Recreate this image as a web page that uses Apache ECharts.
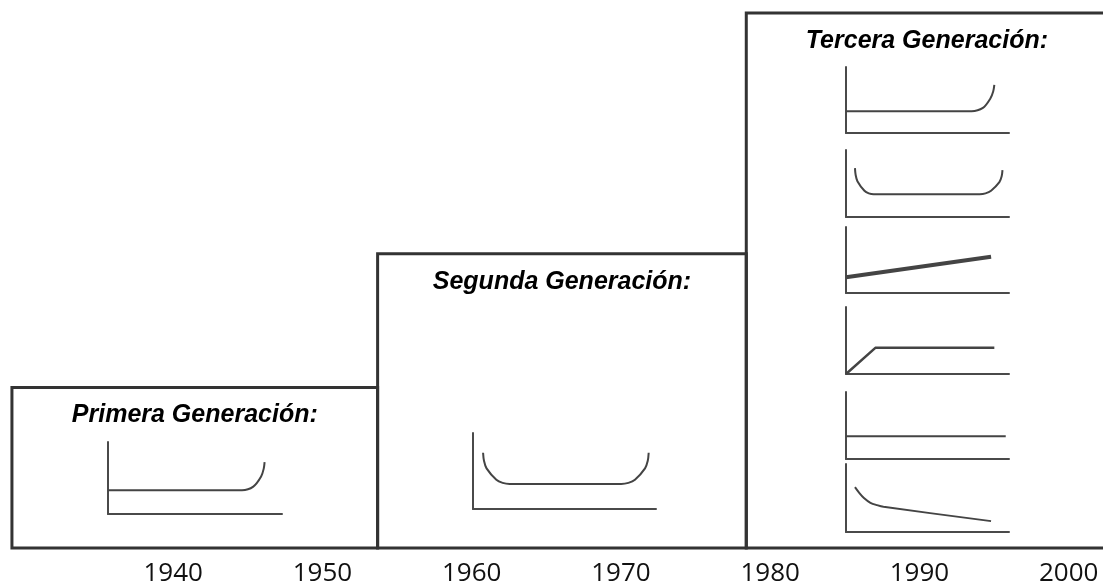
<!DOCTYPE html>
<html>
<head>
    <meta charset="utf-8" />
    <title></title>
    <script src="https://cdn.jsdelivr.net/npm/echarts@6/dist/echarts.min.js"></script>
    <style>
        html, body { margin: 0; padding: 0; background: #fff; }
    </style>
</head>
<body>
    <div id="main" style="width: 1103px;height:585px;"></div>
    <script type="text/javascript">
        // eje de años
        var years = [1940, 1950, 1960, 1970, 1980, 1990, 2000];

        // generaciones: inicio, fin, altura relativa
        var generations = ['Primera Generación:', 'Segunda Generación:', 'Tercera Generación:'];
        var genStart = [1929.2, 1953.7, 1978.4];
        var genEnd = [1953.7, 1978.4, 2002.6];
        var genHeight = [30, 55, 100];

        // curvas de tasa de falla (x: vida 0-100, y: tasa 0-100)
        var curvaPrimera = [[0, 33], [77, 33], [83.5, 38], [88, 52], [89.5, 63], [90, 72]];
        var curvaSegunda = [[5.5, 74], [6, 63.4], [7.4, 53.5], [12.75, 38.5], [16.2, 34.4], [20, 33],
            [81, 33], [84.9, 34.4], [88.5, 38.5], [94, 53.5], [95.5, 63.4], [96, 74]];
        var curvaB = [[0, 33], [77, 33], [84, 38], [88.5, 52], [90.3, 63], [91, 73]];
        var curvaA = [[5.5, 73], [5.9, 63], [7, 53.5], [11.3, 39.2], [14, 35.3], [17, 34],
            [82, 34], [85.6, 35.2], [89, 39.2], [94.1, 52], [95.5, 60.7], [96, 70]];
        var curvaC = [[0, 24], [89, 55]];
        var curvaD = [[0, 0], [18, 39], [91, 39]];
        var curvaE = [[0, 34], [98, 34]];
        var curvaF = [[5.5, 66], [8, 58], [11, 50], [15, 43], [19, 39.5], [23, 37], [89, 16]];

        var myChart = echarts.init(document.getElementById('main'));

        // posicion de cada mini grafico
        var minis = [
            { box: [108, 442, 174, 72], data: curvaPrimera, smooth: 0.3, width: 2 },
            { box: [473, 433, 183, 76], data: curvaSegunda, smooth: 0.3, width: 2 },
            { box: [846, 67, 163, 66], data: curvaB, smooth: 0.3, width: 2 },
            { box: [846, 150, 163, 67], data: curvaA, smooth: 0.3, width: 2 },
            { box: [846, 227, 163, 66], data: curvaC, smooth: false, width: 4 },
            { box: [846, 307, 163, 67], data: curvaD, smooth: false, width: 2.5 },
            { box: [846, 392, 163, 67], data: curvaE, smooth: false, width: 2 },
            { box: [846, 464, 163, 68], data: curvaF, smooth: 0.3, width: 2 }
        ];

        var boxData = [];
        for (var i = 0; i < generations.length; i++) {
            boxData.push([genStart[i], genEnd[i], genHeight[i]]);
        }

        var grid = [{ left: 0, right: 0, top: 13, bottom: 37, containLabel: false, outerBoundsMode: 'none' }];
        var xAxis = [{
            type: 'value', gridIndex: 0, min: 1928.4, max: 2002.3,
            axisLine: { show: false }, axisTick: { show: false }, splitLine: { show: false },
            axisLabel: {
                customValues: years, fontSize: 26, color: '#111', margin: 13,
                fontFamily: '"Open Sans", sans-serif',
                formatter: function (v) { return String(v); }
            }
        }];
        var yAxis = [{ type: 'value', gridIndex: 0, min: 0, max: 100, show: false }];
        var series = [{
            type: 'custom',
            xAxisIndex: 0, yAxisIndex: 0,
            data: boxData,
            clip: false,
            renderItem: function (params, api) {
                var p0 = api.coord([api.value(0), api.value(2)]);
                var p1 = api.coord([api.value(1), 0]);
                return {
                    type: 'group',
                    children: [{
                        type: 'rect',
                        shape: { x: p0[0], y: p0[1], width: p1[0] - p0[0], height: p1[1] - p0[1] },
                        style: { fill: 'none', stroke: '#333', lineWidth: 3 }
                    }, {
                        type: 'text',
                        style: {
                            text: generations[params.dataIndex],
                            x: (p0[0] + p1[0]) / 2, y: p0[1] + 28,
                            align: 'center', verticalAlign: 'middle',
                            fontSize: 25, fontWeight: 'bold', fontStyle: 'italic',
                            fontFamily: '"Liberation Sans", sans-serif', fill: '#000'
                        }
                    }]
                };
            }
        }];

        var ejeMini = { show: true, lineStyle: { color: '#4a4a4a', width: 2 } };
        for (var k = 0; k < minis.length; k++) {
            var b = minis[k].box;
            grid.push({ left: b[0], top: b[1], width: b[2], height: b[3], outerBoundsMode: 'none' });
            xAxis.push({
                type: 'value', gridIndex: k + 1, min: 0, max: 100,
                axisLine: ejeMini, axisTick: { show: false }, axisLabel: { show: false }, splitLine: { show: false }
            });
            yAxis.push({
                type: 'value', gridIndex: k + 1, min: 0, max: 100,
                axisLine: ejeMini, axisTick: { show: false }, axisLabel: { show: false }, splitLine: { show: false }
            });
            series.push({
                type: 'line',
                xAxisIndex: k + 1, yAxisIndex: k + 1,
                data: minis[k].data,
                smooth: minis[k].smooth,
                showSymbol: false,
                silent: true,
                lineStyle: { color: '#444', width: minis[k].width }
            });
        }

        var option = {
            animation: false,
            backgroundColor: '#fff',
            grid: grid,
            xAxis: xAxis,
            yAxis: yAxis,
            series: series
        };
        myChart.setOption(option);
    </script>
</body>
</html>
